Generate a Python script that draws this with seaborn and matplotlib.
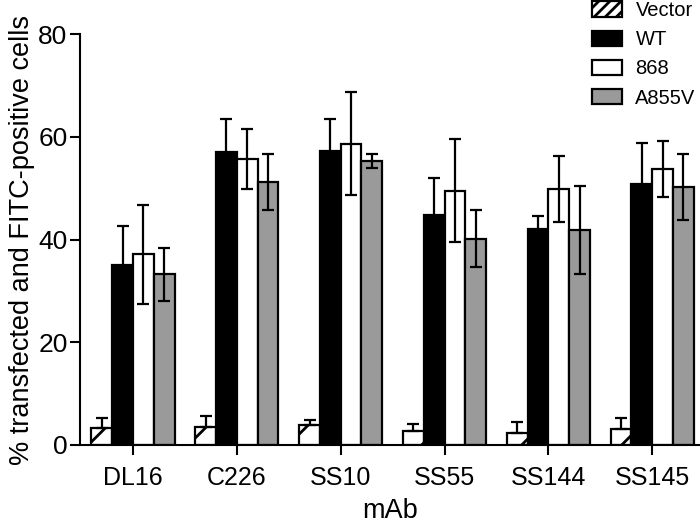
import matplotlib
matplotlib.use("Agg")
import matplotlib.pyplot as plt
import seaborn as sns
import pandas as pd
import numpy as np
from matplotlib.patches import Patch

categories = ["DL16", "C226", "SS10", "SS55", "SS144", "SS145"]
constructs = ["Vector", "WT", "868", "A855V"]

vector_mean = [3.4, 3.5, 3.8, 2.8, 2.3, 3.2]
vector_err = [1.8, 2.2, 1.1, 1.3, 2.2, 2.0]
wt_mean = [35.1, 57.0, 57.3, 44.8, 42.0, 50.9]
wt_err = [7.6, 6.4, 6.2, 7.2, 2.5, 7.9]
c868_mean = [37.1, 55.7, 58.7, 49.5, 49.8, 53.7]
c868_err = [9.6, 5.8, 10.0, 10.0, 6.4, 5.4]
a855v_mean = [33.2, 51.2, 55.3, 40.2, 41.8, 50.3]
a855v_err = [5.1, 5.4, 1.4, 5.5, 8.6, 6.4]

means = {"Vector": vector_mean, "WT": wt_mean, "868": c868_mean, "A855V": a855v_mean}
errs = {"Vector": vector_err, "WT": wt_err, "868": c868_err, "A855V": a855v_err}
colors = {"Vector": "#ffffff", "WT": "#000000", "868": "#ffffff", "A855V": "#9a9a9a"}

rows = []
for c in constructs:
    for cat, v in zip(categories, means[c]):
        rows.append({"mAb": cat, "construct": c, "value": v})
df = pd.DataFrame(rows)

sns.set_style("ticks")
plt.rcParams["font.family"] = ["Liberation Sans", "DejaVu Sans"]
plt.rcParams["hatch.linewidth"] = 2.0
for k in ["text.color", "axes.labelcolor", "xtick.color", "ytick.color", "axes.edgecolor"]:
    plt.rcParams[k] = "black"

fig = plt.figure(figsize=(7.0, 5.24), dpi=100)
ax = fig.add_axes([0.1143, 0.1508, 0.8857, 0.784])

sns.barplot(data=df, x="mAb", y="value", hue="construct", order=categories,
            hue_order=constructs, palette=colors, errorbar=None, width=0.8,
            edgecolor="black", linewidth=1.6, legend=False, ax=ax, saturation=1)

for c, cont in zip(constructs, ax.containers):
    xs = [p.get_x() + p.get_width() / 2 for p in cont.patches]
    ys = [p.get_height() for p in cont.patches]
    if c == "Vector":
        for p in cont.patches:
            p.set_hatch("/")
        yerr = [np.zeros(len(ys)), errs[c]]
    else:
        yerr = errs[c]
    ax.errorbar(xs, ys, yerr=yerr, fmt="none", ecolor="black",
                elinewidth=1.6, capsize=4.5, capthick=1.6, zorder=5)

ax.set_ylim(0, 80)
ax.set_xlim(-0.51, 5.46)
ax.set_yticks([0, 20, 40, 60, 80])
ax.tick_params(axis="y", labelsize=19, width=1.5, length=7, direction="out", pad=2)
ax.tick_params(axis="x", labelsize=18, width=1.5, length=7, direction="out", pad=8)
for s in ["top", "right"]:
    ax.spines[s].set_visible(False)
for s in ["left", "bottom"]:
    ax.spines[s].set_linewidth(1.5)
ax.set_xlabel("mAb", fontsize=19.5, labelpad=6)
ax.set_ylabel("% transfected and FITC-positive cells", fontsize=19.5, labelpad=2)

handles = []
for c in constructs:
    handles.append(Patch(facecolor=colors[c], edgecolor="black", linewidth=1.6,
                         hatch="///" if c == "Vector" else None, label=c))
leg = ax.legend(handles=handles, loc="upper left", bbox_to_anchor=(0.826, 1.08),
                frameon=False, fontsize=14.5, handlelength=1.5, handleheight=0.82,
                labelspacing=0.5, handletextpad=0.65, borderaxespad=0, borderpad=0)

fig.savefig("out.png", dpi=100)
